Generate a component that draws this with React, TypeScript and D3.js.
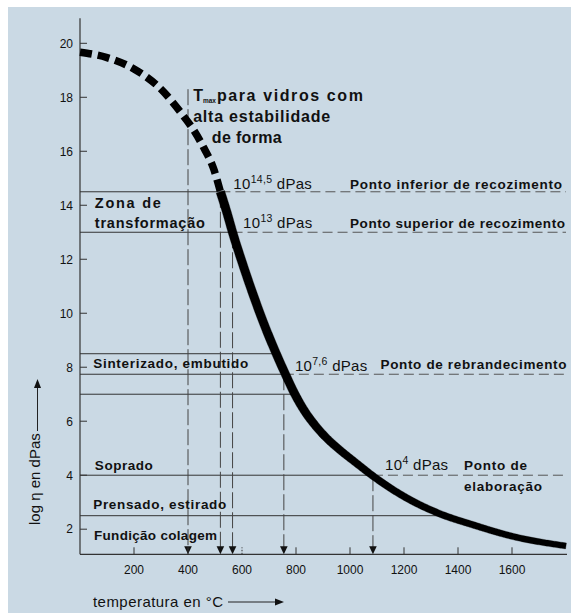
import React, { useLayoutEffect, useRef, useState } from "react";
import * as d3 from "d3";

const W = 571;
const H = 613;

// Viscosity curve (temperature °C, log η in dPas)
const curveTemps = [0, 100, 200, 300, 380, 420, 460, 495, 520, 545, 565, 600, 642, 680, 726, 759, 796, 833, 870, 907, 963, 1022, 1085, 1211, 1333, 1456, 1604, 1800];
const curveLogEta = [19.67, 19.47, 19.05, 18.3, 17.35, 16.8, 16.1, 15.35, 14.5, 13.7, 13.0, 11.9, 10.67, 9.64, 8.52, 7.78, 7.0, 6.36, 5.86, 5.44, 4.93, 4.46, 3.97, 3.15, 2.57, 2.16, 1.73, 1.38];
const dashedUntilTemp = 520;

// stroke width of the solid part along temperature
const widthTemps = [520, 800, 1100, 1800];
const widthPx = [8.8, 8.6, 7.2, 6.0];

const xTicks = [200, 400, 600, 800, 1000, 1200, 1400, 1600];
const yTicks = [2, 4, 6, 8, 10, 12, 14, 16, 18, 20];

// horizontal reference levels
const refLevels = [14.5, 13, 8.5, 7.74, 7, 4, 2.5];
const refSolidTo = [520, 565, 712, 755, 790, 1085, 1333];
const refDashedTail = [true, true, false, true, false, true, false];

// vertical markers with arrows
const markerTemps = [400, 520, 565, 755, 1085];
const markerTops = [18.3, 14.5, 13, 7.74, 4];

// bold labels: text, temp, logEta (baseline), width
const boldLabels = [
  "Zona de",
  "transformação",
  "Sinterizado, embutido",
  "Soprado",
  "Prensado, estirado",
  "Fundição colagem",
  "Ponto inferior de recozimento",
  "Ponto superior de recozimento",
  "Ponto de rebrandecimento",
  "Ponto de",
  "elaboração",
];
const boldTemps = [55, 55, 49, 55, 49, 52, 1000, 1000, 1113, 1422, 1422];
const boldEta = [13.89, 13.15, 7.96, 4.2, 2.75, 1.6, 14.6, 13.15, 7.93, 4.2, 3.43];
const boldWidths = [66, 110, 155, 58, 133, 123, 212, 215, 186, 63, 78];

const viscExp = ["14,5", "13", "7,6", "4"];
const viscTemps = [568, 604, 796, 1130];
const viscEta = [14.6, 13.15, 7.87, 4.2];

const FONT = "'Liberation Sans', Arial, Helvetica, sans-serif";

export default function App() {
  const x = d3.scaleLinear().domain([0, 1800]).range([80, 566]);
  const y = d3.scaleLinear().domain([1.07, 20]).range([554.3, 43.3]);
  const wScale = d3.scaleLinear().domain(widthTemps).range(widthPx).clamp(true);
  const x0 = x(0);
  const yBottom = y(1.07);
  const yTop = y(20.93);

  const pts: [number, number][] = curveTemps.map((t, i) => [t, curveLogEta[i]]);
  const line = d3
    .line<[number, number]>()
    .x((d) => x(d[0]))
    .y((d) => y(d[1]))
    .curve(d3.curveMonotoneX);
  const dashedPts = pts.filter((d) => d[0] <= dashedUntilTemp);
  const solidPts = pts.filter((d) => d[0] >= dashedUntilTemp);

  const solidRef = useRef<SVGPathElement>(null);
  const [ribbon, setRibbon] = useState<string>("");

  useLayoutEffect(() => {
    const p = solidRef.current;
    if (!p) return;
    const L = p.getTotalLength();
    const N = 400;
    const s: { x: number; y: number }[] = [];
    for (let i = 0; i <= N; i++) {
      const q = p.getPointAtLength((L * i) / N);
      s.push({ x: q.x, y: q.y });
    }
    const left: string[] = [];
    const right: string[] = [];
    for (let i = 0; i <= N; i++) {
      const a = s[Math.max(0, i - 1)];
      const b = s[Math.min(N, i + 1)];
      const dx = b.x - a.x;
      const dy = b.y - a.y;
      const len = Math.hypot(dx, dy) || 1;
      const nx = -dy / len;
      const ny = dx / len;
      const w = wScale(x.invert(s[i].x)) / 2;
      left.push(`${(s[i].x + nx * w).toFixed(2)},${(s[i].y + ny * w).toFixed(2)}`);
      right.push(`${(s[i].x - nx * w).toFixed(2)},${(s[i].y - ny * w).toFixed(2)}`);
    }
    setRibbon("M" + left.join("L") + "L" + right.reverse().join("L") + "Z");
  }, []);

  const lineColor = "#333";
  const textColor = "#111";

  return (
    <svg
      width={W}
      height={H}
      viewBox={`0 0 ${W} ${H}`}
      style={{ position: "absolute", left: 0, top: 0, fontFamily: FONT }}
    >
      <rect x={0} y={0} width={W} height={H} fill="#ffffff" />
      <rect x={8} y={7} width={W - 8} height={H - 7} fill="#cad9e4" />

      {/* horizontal reference lines */}
      {refLevels.map((v, i) => (
        <g key={"ref" + i}>
          <line x1={x0} x2={x(refSolidTo[i])} y1={y(v)} y2={y(v)} stroke={lineColor} strokeWidth={1} />
          {refDashedTail[i] && (
            <line
              x1={x(refSolidTo[i])}
              x2={x(1800)}
              y1={y(v)}
              y2={y(v)}
              stroke="#555"
              strokeWidth={1}
              strokeDasharray="10,5"
            />
          )}
        </g>
      ))}

      {/* vertical markers */}
      {markerTemps.map((t, i) => (
        <g key={"mk" + i}>
          <line
            x1={x(t)}
            x2={x(t)}
            y1={y(markerTops[i])}
            y2={yBottom - 6}
            stroke="#444"
            strokeWidth={1}
            strokeDasharray="16,4"
          />
          <path
            d={`M${x(t) - 3.8},${yBottom - 8} L${x(t) + 3.8},${yBottom - 8} L${x(t)},${yBottom} Z`}
            fill="#111"
          />
        </g>
      ))}

      {/* axes */}
      <line x1={x0} x2={x0} y1={yTop} y2={yBottom} stroke={lineColor} strokeWidth={1.2} />
      <line x1={x0} x2={x(1800) + 1} y1={yBottom} y2={yBottom} stroke={lineColor} strokeWidth={1.2} />
      {yTicks.map((v) => (
        <g key={"yt" + v}>
          <line x1={x0} x2={x0 + 7} y1={y(v)} y2={y(v)} stroke={lineColor} strokeWidth={1} />
          <text x={73} y={y(v) + 4.3} fontSize={12} textAnchor="end" fill={textColor}>
            {v}
          </text>
        </g>
      ))}
      {xTicks.map((t) => (
        <g key={"xt" + t}>
          <line
            x1={x(t)}
            x2={x(t)}
            y1={yBottom}
            y2={yBottom - 7}
            stroke={lineColor}
            strokeWidth={1}
            strokeDasharray={t === 600 ? "1.5,1.5" : undefined}
          />
          <text x={x(t)} y={574} fontSize={12} textAnchor="middle" fill={textColor}>
            {t}
          </text>
        </g>
      ))}

      {/* curve */}
      <path d={line(dashedPts) || ""} fill="none" stroke="#000" strokeWidth={7.5} strokeDasharray="12,6" />
      <path ref={solidRef} d={line(solidPts) || ""} fill="none" stroke={ribbon ? "none" : "#000"} strokeWidth={8} />
      {ribbon && <path d={ribbon} fill="#000" stroke="#000" strokeWidth={0.3} />}

      {/* Tmax annotation */}
      <g fontWeight="bold" fontSize={16} fill={textColor}>
        <text x={x(419)} y={y(17.87)}>
          T
          <tspan fontSize={6.5} dy={2.5}>
            max
          </tspan>
          <tspan dy={-2.5} dx={1} textLength={146} lengthAdjust="spacing">
            para vidros com
          </tspan>
        </text>
        <text x={x(419)} y={y(17.1)} textLength={137} lengthAdjust="spacing">
          alta estabilidade
        </text>
        <text x={x(488)} y={y(16.3)} textLength={70} lengthAdjust="spacing">
          de forma
        </text>
      </g>

      {/* bold labels */}
      {boldLabels.map((s, i) => (
        <text
          key={"bl" + i}
          x={x(boldTemps[i])}
          y={y(boldEta[i])}
          fontWeight="bold"
          fontSize={i < 2 ? 14.5 : 13.5}
          fill={textColor}
          textLength={boldWidths[i]}
          lengthAdjust="spacing"
        >
          {s}
        </text>
      ))}

      {/* viscosity values */}
      {viscExp.map((e, i) => (
        <text
          key={"vx" + i}
          x={x(viscTemps[i])}
          y={y(viscEta[i])}
          fontSize={15}
          fill={textColor}
          style={{ letterSpacing: "0.3px" }}
        >
          10
          <tspan fontSize={10.5} dy={-6}>
            {e}
          </tspan>
          <tspan dy={6}>{" dPas"}</tspan>
        </text>
      ))}

      {/* axis titles */}
      <text x={93} y={606.7} fontSize={15} fill={textColor} textLength={130} lengthAdjust="spacing">
        temperatura en °C
      </text>
      <line x1={228} x2={276} y1={602} y2={602} stroke="#222" strokeWidth={1} />
      <path d="M284,602 L275,598.5 L275,605.5 Z" fill="#111" />

      <text transform="translate(39.5,525) rotate(-90)" fontSize={15} fill={textColor}>
        log η en dPas
      </text>
      <line x1={37.5} x2={37.5} y1={431} y2={387} stroke="#222" strokeWidth={1} />
      <path d="M37.5,379 L34,388 L41,388 Z" fill="#111" />
    </svg>
  );
}
